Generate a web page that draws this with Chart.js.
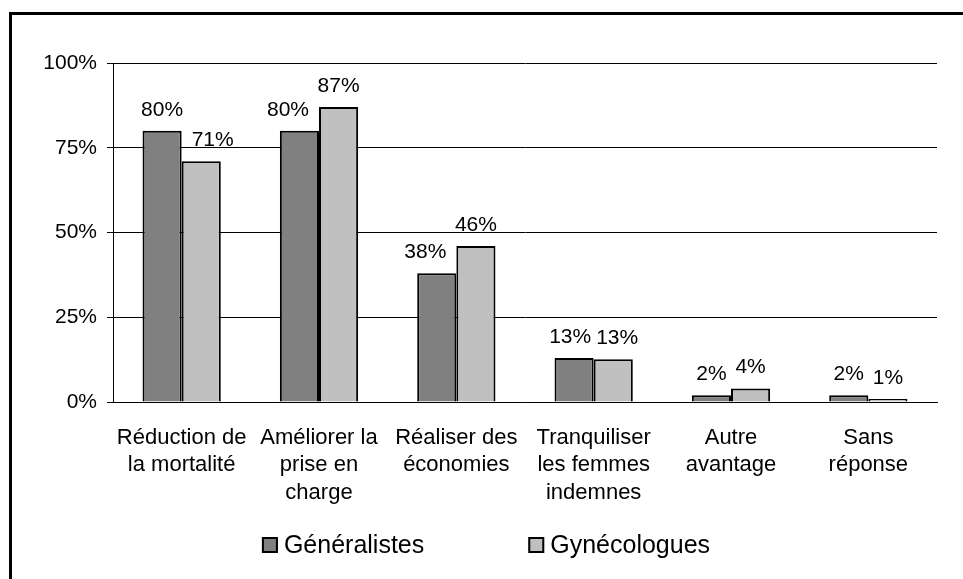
<!DOCTYPE html>
<html lang="fr">
<head>
    <meta charset="UTF-8">
    <title>Avantages du dépistage</title>
    <style>
        html, body {
            margin: 0;
            padding: 0;
            background: white;
        }
        #wrap {
            width: 963px;
            height: 579px;
            position: relative;
        }
    </style>
</head>
<body>
<div id="wrap">
    <canvas id="chart" width="963" height="579"></canvas>
</div>

<script src="https://cdn.jsdelivr.net/npm/chart.js"></script>
<script>
    // données
    const categories = [
        ['Réduction de', 'la mortalité'],
        ['Améliorer la', 'prise en', 'charge'],
        ['Réaliser des', 'économies'],
        ['Tranquiliser', 'les femmes', 'indemnes'],
        ['Autre', 'avantage'],
        ['Sans', 'réponse']
    ];
    const generalistes = [80, 80, 38, 13, 2, 2];
    const gynecologues = [71, 87, 46, 12.6, 4, 0.9];
    const yTicks = [0, 25, 50, 75, 100];

    const FONT = '"Liberation Sans", Arial, Helvetica, sans-serif';

    // cadre + étiquettes de valeurs + légende
    const decorPlugin = {
        id: 'decor',
        beforeDraw(chart) {
            const ctx = chart.ctx;
            ctx.save();
            ctx.strokeStyle = '#000';
            ctx.lineWidth = 3;
            ctx.strokeRect(10.5, 13.5, 1100, 700);
            ctx.restore();
        },
        afterDatasetsDraw(chart) {
            const ctx = chart.ctx;
            const off = 21, half = 11, gap = 10;
            ctx.save();
            ctx.font = '21px ' + FONT;
            ctx.fillStyle = '#000';
            ctx.textAlign = 'center';
            ctx.textBaseline = 'middle';
            const bars0 = chart.getDatasetMeta(0).data;
            const bars1 = chart.getDatasetMeta(1).data;
            bars0.forEach((b0, j) => {
                const b1 = bars1[j];
                const t0 = Math.round(generalistes[j]) + '%';
                const t1 = Math.round(gynecologues[j]) + '%';
                const w0 = ctx.measureText(t0).width, w1 = ctx.measureText(t1).width;
                let x0 = b0.x, x1 = b1.x;
                // éviter la barre voisine plus haute
                if (b0.y - off + half > b1.y) x0 = Math.min(x0, b1.x - b1.width / 2 - gap - w0 / 2);
                if (b1.y - off + half > b0.y) x1 = Math.max(x1, b0.x + b0.width / 2 + gap + w1 / 2);
                // écarter les étiquettes qui se chevauchent
                const overlap = (x0 + w0 / 2 + 5) - (x1 - w1 / 2);
                if (overlap > 0 && Math.abs(b0.y - b1.y) < 26) {
                    x0 -= overlap / 2;
                    x1 += overlap / 2;
                }
                ctx.fillText(t0, x0, b0.y - off);
                ctx.fillText(t1, x1, b1.y - off);
            });
            ctx.restore();
        },
        afterDraw(chart) {
            const ctx = chart.ctx;
            const box = 16, gap = 6, itemGap = 104, cy = 545, cx = 486;
            ctx.save();
            ctx.font = '25px ' + FONT;
            const items = chart.data.datasets.map(ds => ({
                text: ds.label,
                color: ds.backgroundColor,
                w: box + gap + ctx.measureText(ds.label).width
            }));
            const total = items.reduce((s, it) => s + it.w, 0) + itemGap * (items.length - 1);
            let x = cx - total / 2;
            items.forEach(it => {
                ctx.fillStyle = it.color;
                ctx.fillRect(x, cy - box / 2, box, box);
                ctx.strokeStyle = '#000';
                ctx.lineWidth = 2;
                ctx.strokeRect(x + 1, cy - box / 2 + 1, box - 2, box - 2);
                ctx.fillStyle = '#000';
                ctx.textBaseline = 'middle';
                ctx.textAlign = 'left';
                ctx.fillText(it.text, x + box + gap, cy + 1);
                x += it.w + itemGap;
            });
            ctx.restore();
        }
    };

    new Chart(document.getElementById('chart'), {
        type: 'bar',
        data: {
            labels: categories,
            datasets: [
                {
                    label: 'Généralistes',
                    data: generalistes,
                    backgroundColor: '#808080',
                    borderColor: '#000',
                    borderWidth: 2
                },
                {
                    label: 'Gynécologues',
                    data: gynecologues,
                    backgroundColor: '#c0c0c0',
                    borderColor: '#000',
                    borderWidth: 2
                }
            ]
        },
        options: {
            responsive: false,
            animation: false,
            devicePixelRatio: 1,
            categoryPercentage: 0.57,
            barPercentage: 1.0,
            layout: {
                padding: { top: 63, left: 20, right: 26, bottom: 60 }
            },
            plugins: {
                legend: { display: false },
                tooltip: { enabled: false }
            },
            scales: {
                x: {
                    grid: { display: false, drawTicks: false },
                    border: { color: '#000', width: 1 },
                    ticks: {
                        color: '#000',
                        font: { family: FONT, size: 22, lineHeight: 1.25 },
                        padding: 22,
                        maxRotation: 0,
                        autoSkip: false
                    },
                    afterFit: s => { s.height = 117; }
                },
                y: {
                    min: 0,
                    max: 100,
                    afterBuildTicks: s => { s.ticks = yTicks.map(v => ({ value: v })); },
                    grid: {
                        color: '#000',
                        lineWidth: 1,
                        tickLength: 6,
                        tickColor: '#000'
                    },
                    border: { color: '#000', width: 1 },
                    ticks: {
                        color: '#000',
                        font: { family: FONT, size: 21 },
                        padding: 10,
                        callback: v => v + '%'
                    },
                    afterFit: s => { s.width = 93; }
                }
            }
        },
        plugins: [decorPlugin]
    });
</script>
</body>
</html>
